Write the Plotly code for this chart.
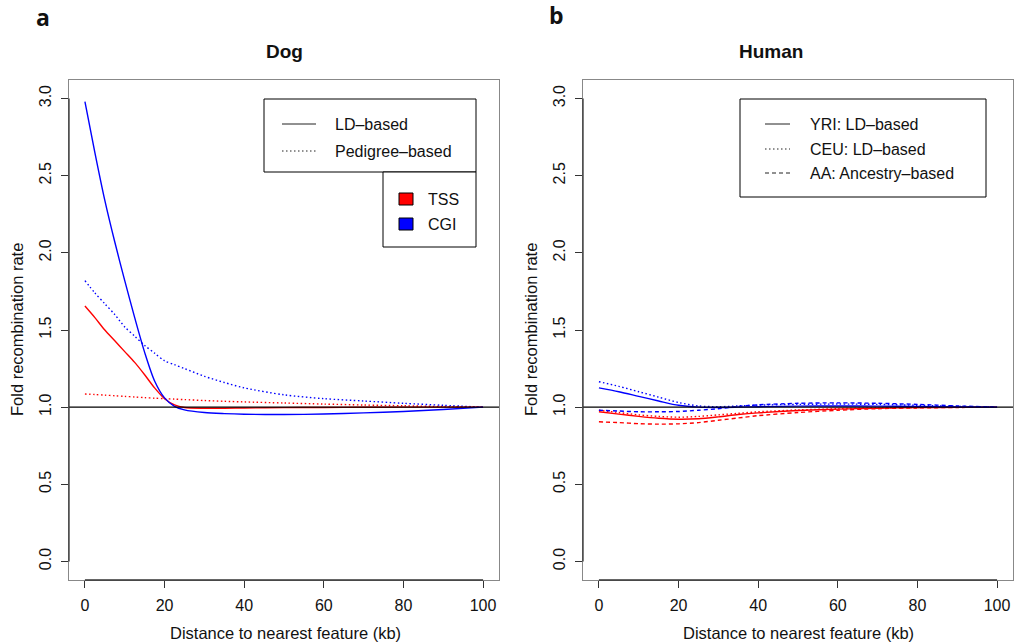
import plotly.graph_objects as go

# ---- data -------------------------------------------------------------
dog_x = [0, 2.5, 5, 7.5, 10, 12.5, 15, 17.5, 20, 22.5, 25, 30, 35, 40, 50, 60, 70, 80, 90, 100]
dog_cgi_ld = [2.98, 2.65, 2.34, 2.07, 1.82, 1.58, 1.355, 1.17, 1.06, 1.005, 0.982, 0.965, 0.958,
              0.954, 0.952, 0.956, 0.963, 0.972, 0.985, 1.0]
dog_cgi_ped = [1.82, 1.74, 1.67, 1.60, 1.52, 1.46, 1.40, 1.35, 1.30, 1.275, 1.25, 1.20, 1.16,
               1.125, 1.08, 1.055, 1.04, 1.025, 1.012, 1.0]
dog_tss_ld = [1.655, 1.58, 1.50, 1.43, 1.36, 1.29, 1.21, 1.125, 1.055, 1.015, 0.998, 0.993, 0.993,
              0.995, 0.997, 0.998, 0.999, 1.0, 1.0, 1.0]
dog_tss_ped = [1.085, 1.082, 1.078, 1.074, 1.07, 1.066, 1.062, 1.058, 1.055, 1.052, 1.049, 1.043,
               1.038, 1.034, 1.027, 1.02, 1.014, 1.009, 1.004, 1.0]

hum_x = [0, 5, 10, 15, 20, 25, 30, 35, 40, 50, 60, 70, 80, 90, 100]
hum_cgi_yri = [1.125, 1.10, 1.07, 1.04, 1.012, 1.0, 0.998, 1.0, 1.003, 1.007, 1.008, 1.007, 1.005, 1.002, 1.0]
hum_cgi_ceu = [1.165, 1.135, 1.10, 1.065, 1.03, 1.008, 1.003, 1.008, 1.013, 1.018, 1.02, 1.018, 1.012, 1.005, 1.0]
hum_cgi_aa = [0.98, 0.975, 0.97, 0.97, 0.972, 0.98, 0.99, 1.005, 1.015, 1.025, 1.028, 1.025, 1.018, 1.008, 1.0]
hum_tss_yri = [0.97, 0.955, 0.94, 0.928, 0.922, 0.925, 0.937, 0.952, 0.963, 0.978, 0.987, 0.993, 0.997, 0.999, 1.0]
hum_tss_ceu = [0.98, 0.965, 0.95, 0.94, 0.935, 0.94, 0.95, 0.96, 0.97, 0.982, 0.99, 0.995, 0.998, 1.0, 1.0]
hum_tss_aa = [0.905, 0.90, 0.893, 0.89, 0.892, 0.90, 0.915, 0.93, 0.945, 0.965, 0.98, 0.99, 0.995, 0.998, 1.0]

x_ticks = [0, 20, 40, 60, 80, 100]
y_ticks = [0.0, 0.5, 1.0, 1.5, 2.0, 2.5, 3.0]
y_tick_labels = ["0.0", "0.5", "1.0", "1.5", "2.0", "2.5", "3.0"]

RED = "#FF0000"
BLUE = "#0000FF"
FONT = "Liberation Sans, Arial, sans-serif"

# R-like line types
DASHES = {"solid": "solid", "dot": "1.5px,2.5px", "dash": "4px,3px"}

W, H = 1014, 643


def px_x(p):
    return p / W


def px_y(p):
    return (H - p) / H


fig = go.Figure()


def add_line(x, y, color, lty, axis):
    fig.add_trace(go.Scatter(
        x=x, y=y, mode="lines", xaxis=axis[0], yaxis=axis[1],
        line=dict(color=color, width=1.4, dash=DASHES[lty], shape="spline", smoothing=0.8),
        showlegend=False, hoverinfo="skip"))


# Dog panel
add_line(dog_x, dog_tss_ped, RED, "dot", ("x", "y"))
add_line(dog_x, dog_cgi_ped, BLUE, "dot", ("x", "y"))
add_line(dog_x, dog_tss_ld, RED, "solid", ("x", "y"))
add_line(dog_x, dog_cgi_ld, BLUE, "solid", ("x", "y"))

# Human panel
add_line(hum_x, hum_tss_aa, RED, "dash", ("x2", "y2"))
add_line(hum_x, hum_tss_ceu, RED, "dot", ("x2", "y2"))
add_line(hum_x, hum_tss_yri, RED, "solid", ("x2", "y2"))
add_line(hum_x, hum_cgi_aa, BLUE, "dash", ("x2", "y2"))
add_line(hum_x, hum_cgi_ceu, BLUE, "dot", ("x2", "y2"))
add_line(hum_x, hum_cgi_yri, BLUE, "solid", ("x2", "y2"))

y_dom = [px_y(580), px_y(80)]
left_dom = [px_x(69), px_x(499)]
right_dom = [px_x(583), px_x(1013)]

xaxis_common = dict(
    range=[-4, 104], tickvals=x_ticks, ticks="outside", ticklen=7, tickwidth=1,
    tickcolor="#333", showline=True, mirror=True, linecolor="#888", linewidth=1,
    showgrid=False, zeroline=False, tickfont=dict(family=FONT, size=16, color="#111"),
    ticklabelstandoff=4, fixedrange=True,
)
yaxis_common = dict(
    range=[-0.12, 3.12], tickvals=y_ticks, ticktext=y_tick_labels, ticks="outside",
    ticklen=7, tickwidth=1, tickcolor="#333", showline=True, mirror=True,
    linecolor="#888", linewidth=1, showgrid=False, zeroline=False, tickangle=-90,
    tickfont=dict(family=FONT, size=16, color="#111"), ticklabelstandoff=4,
    domain=y_dom, fixedrange=True,
)

fig.update_layout(
    width=W, height=H, autosize=False,
    margin=dict(l=0, r=0, t=0, b=0),
    paper_bgcolor="white", plot_bgcolor="white",
    xaxis=dict(domain=left_dom, anchor="y", **xaxis_common),
    yaxis=dict(anchor="x", **yaxis_common),
    xaxis2=dict(domain=right_dom, anchor="y2", **xaxis_common),
    yaxis2=dict(anchor="x2", **yaxis_common),
    font=dict(family=FONT, color="#111"),
)

shapes = []
# reference line at fold rate 1 and darker axis segments
for xr, yr in (("x", "y"), ("x2", "y2")):
    shapes.append(dict(type="line", xref=f"{xr} domain", yref=yr, x0=0, x1=1, y0=1, y1=1,
                       line=dict(color="black", width=1.2)))
    shapes.append(dict(type="line", xref=xr, yref=f"{yr} domain", x0=0, x1=100, y0=0, y1=0,
                       line=dict(color="#333", width=1.3)))
    shapes.append(dict(type="line", xref=f"{xr} domain", yref=yr, x0=0, x1=0, y0=0, y1=3,
                       line=dict(color="#333", width=1.3)))


def box(x0, y0, x1, y1, fill="white", lw=1):
    shapes.append(dict(type="rect", xref="paper", yref="paper",
                       x0=px_x(x0), x1=px_x(x1), y0=px_y(y1), y1=px_y(y0),
                       line=dict(color="black", width=lw), fillcolor=fill))


def sample(x0, x1, y, lty):
    shapes.append(dict(type="line", xref="paper", yref="paper",
                       x0=px_x(x0), x1=px_x(x1), y0=px_y(y), y1=px_y(y),
                       line=dict(color="#222", width=1, dash=DASHES[lty])))


annotations = []


def text(x, y, s, size=16, bold=False, anchor="left", angle=0, family=FONT):
    annotations.append(dict(
        xref="paper", yref="paper", x=px_x(x), y=px_y(y), text=f"<b>{s}</b>" if bold else s,
        showarrow=False, xanchor=anchor, yanchor="middle", textangle=angle,
        font=dict(family=family, size=size, color="#111")))


# Dog legends
box(264, 99, 476, 172)
sample(282, 316, 124, "solid")
sample(282, 316, 151, "dot")
text(333, 124, "LD\u2013based")
text(333, 151, "Pedigree\u2013based")
box(383, 172, 476, 247)
box(399, 193, 413, 205, fill=RED)
box(399, 218, 413, 230, fill=BLUE)
text(426, 199, "TSS")
text(426, 224, "CGI")

# Human legend
box(740, 99, 986, 197)
sample(765, 790, 124, "solid")
sample(765, 790, 149, "dot")
sample(765, 790, 173, "dash")
text(808, 124, "YRI: LD\u2013based")
text(808, 149, "CEU: LD\u2013based")
text(808, 173, "AA: Ancestry\u2013based")

# titles and axis labels
text(284, 52, "Dog", size=19, bold=True, anchor="center")
text(771, 52, "Human", size=19, bold=True, anchor="center")
text(285, 633, "Distance to nearest feature (kb)", size=16.5, anchor="center")
text(798, 633, "Distance to nearest feature (kb)", size=16.5, anchor="center")
text(17, 330, "Fold recombination rate", size=16.5, anchor="center", angle=-90)
text(531, 330, "Fold recombination rate", size=16.5, anchor="center", angle=-90)
text(43, 17, "a", size=23, bold=True, anchor="center", family="Open Sans, sans-serif")
text(556, 15, "b", size=23, bold=True, anchor="center", family="Open Sans, sans-serif")

fig.update_layout(shapes=shapes, annotations=annotations)

fig.write_html("out.html")
